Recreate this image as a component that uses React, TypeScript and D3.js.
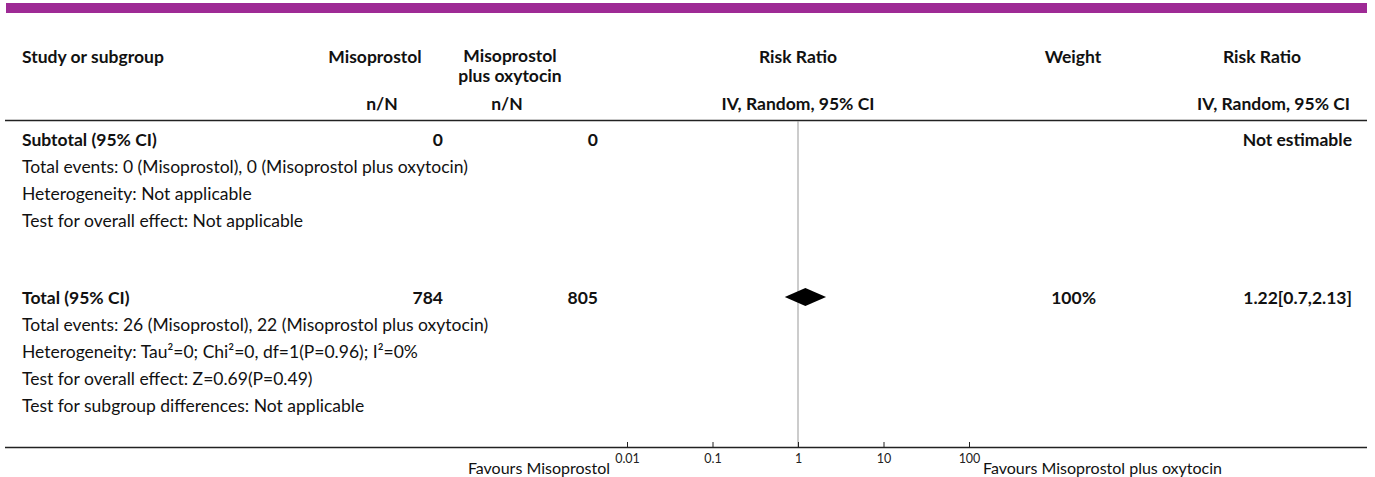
import { useEffect, useRef } from "react";
import * as d3 from "d3";

// study columns
const groupNames = ["Misoprostol", "Misoprostol plus oxytocin"];
const summaryLabels = ["Subtotal (95% CI)", "Total (95% CI)"];
const misoprostolN = [0, 784];
const comboN = [0, 805];
const weightText = ["", "100%"];
const effectText = ["Not estimable", "1.22[0.7,2.13]"];
const riskRatio = [NaN, 1.22];
const ciLower = [NaN, 0.7];
const ciUpper = [NaN, 2.13];

const subtotalNotes = [
  "Total events: 0 (Misoprostol), 0 (Misoprostol plus oxytocin)",
  "Heterogeneity: Not applicable",
  "Test for overall effect: Not applicable",
];
const totalNotes = [
  "Total events: 26 (Misoprostol), 22 (Misoprostol plus oxytocin)",
  "Heterogeneity: Tau\u00b2=0; Chi\u00b2=0, df=1(P=0.96); I\u00b2=0%",
  "Test for overall effect: Z=0.69(P=0.49)",
  "Test for subgroup differences: Not applicable",
];

const axisTicks = [0.01, 0.1, 1, 10, 100];
const favourLeft = "Favours Misoprostol";
const favourRight = "Favours Misoprostol plus oxytocin";

const FONT = "Lato, 'Noto Sans', sans-serif";

export default function App() {
  const svgRef = useRef<SVGSVGElement>(null);

  useEffect(() => {
    if (!svgRef.current) return;
    const svg = d3.select(svgRef.current);
    svg.selectAll("*").remove();

    const x = d3.scaleLog().domain([0.01, 100]).range([627, 969]);
    const axisY = 447;
    const rowH = 27;

    // purple banner
    svg.append("rect").attr("x", 6).attr("y", 3).attr("width", 1361).attr("height", 10).attr("fill", "#9e2a95");

    const g = svg.append("g").attr("font-family", FONT).attr("fill", "#111");

    const txt = (
      s: string,
      tx: number,
      ty: number,
      anchor = "start",
      weight = "normal",
      size = 17.5
    ) =>
      g.append("text")
        .attr("x", tx)
        .attr("y", ty)
        .attr("text-anchor", anchor)
        .attr("dominant-baseline", "central")
        .attr("font-weight", weight)
        .attr("font-size", size)
        .text(s);

    const B = 17.5;
    // header
    txt("Study or subgroup", 22, 56, "start", "bold", B);
    txt(groupNames[0], 375, 56, "middle", "bold", B);
    txt("Misoprostol", 510, 55, "middle", "bold", B);
    txt("plus oxytocin", 510, 75, "middle", "bold", B);
    txt("n/N", 382, 103, "middle", "bold", B);
    txt("n/N", 507, 103, "middle", "bold", B);
    txt("Risk Ratio", x(1), 56, "middle", "bold", B);
    txt("IV, Random, 95% CI", x(1), 103, "middle", "bold", B);
    txt("Weight", 1073, 56, "middle", "bold", B);
    txt("Risk Ratio", 1262, 56, "middle", "bold", B);
    txt("IV, Random, 95% CI", 1350, 103, "end", "bold", B);

    g.append("line").attr("x1", 5).attr("x2", 1367).attr("y1", 120.5).attr("y2", 120.5)
      .attr("stroke", "#222").attr("stroke-width", 1.5);

    // null line
    g.append("line").attr("x1", x(1)).attr("x2", x(1)).attr("y1", 121).attr("y2", axisY)
      .attr("stroke", "#999").attr("stroke-width", 1);

    const groupTop = [139, 297];
    const notes = [subtotalNotes, totalNotes];

    summaryLabels.forEach((lab, i) => {
      const y0 = groupTop[i];
      txt(lab, 22, y0, "start", "bold", B);
      txt(String(misoprostolN[i]), 443, y0, "end", "bold", B);
      txt(String(comboN[i]), 598, y0, "end", "bold", B);
      if (weightText[i]) txt(weightText[i], 1096, y0, "end", "bold", B);
      txt(effectText[i], 1352, y0, "end", "bold", B);
      notes[i].forEach((n, j) => txt(n, 22, y0 + (j + 1) * rowH));
      if (!isNaN(riskRatio[i])) {
        const pts: [number, number][] = [
          [x(ciLower[i]), y0],
          [x(riskRatio[i]), y0 - 9],
          [x(ciUpper[i]), y0],
          [x(riskRatio[i]), y0 + 9],
        ];
        g.append("path").attr("d", d3.line()(pts) + "Z").attr("fill", "#000");
      }
    });

    // bottom axis
    g.append("line").attr("x1", 5).attr("x2", 1367).attr("y1", axisY + 0.5).attr("y2", axisY + 0.5)
      .attr("stroke", "#222").attr("stroke-width", 1.5);
    const ax = g.append("g").attr("transform", `translate(0,${axisY})`)
      .call(d3.axisBottom(x).tickValues(axisTicks).tickFormat((d) => String(d)).tickSize(0));
    ax.select(".domain").remove();
    ax.selectAll(".tick").append("line").attr("y1", 0).attr("y2", -5).attr("stroke", "#222");
    ax.selectAll("text").attr("font-family", FONT).attr("font-size", 12.5).attr("fill", "#222").attr("dy", "0").attr("y", 16);
    txt(favourLeft, 610, 467, "end", "normal", 16);
    txt(favourRight, 983, 467, "start", "normal", 16);
  }, []);

  return (
    <svg
      ref={svgRef}
      width={1375}
      height={477}
      style={{ position: "absolute", left: 0, top: 0, background: "#fff" }}
    />
  );
}
